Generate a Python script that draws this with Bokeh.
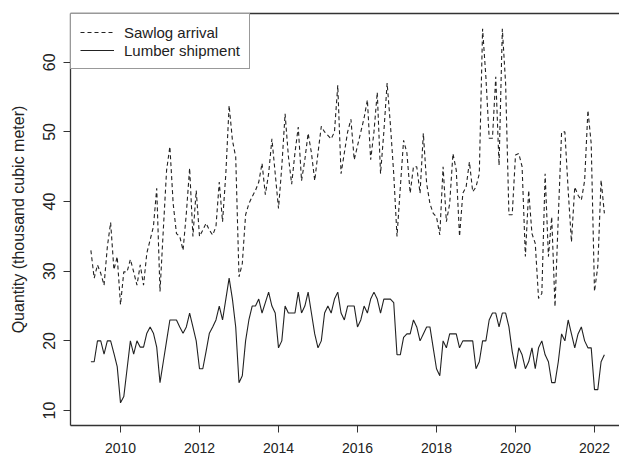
import numpy as np
from bokeh.plotting import figure
from bokeh.models import (Range1d, FixedTicker, LinearAxis, Legend, LegendItem,
                          ColumnDataSource)
from bokeh.embed import file_html
from bokeh.resources import INLINE

# Monthly series, April 2009 to April 2022 (thousand cubic meter)
start_year = 2009.25

sawlog_arrival = [
    33.0, 29.0, 30.9, 29.7, 28.0, 33.5, 37.0, 30.2, 32.1, 25.2,
    29.9, 29.9, 31.7, 29.9, 28.0, 30.9, 28.0, 32.6, 34.5, 36.4,
    41.9, 27.1, 35.9, 44.5, 47.9, 39.7, 35.4, 35.0, 33.0, 38.3,
    44.8, 35.0, 41.6, 35.0, 35.9, 36.9, 35.9, 35.2, 36.4, 42.8,
    37.1, 44.0, 53.8, 48.8, 46.4, 29.2, 31.1, 38.1, 39.7, 40.7,
    41.6, 42.8, 45.5, 41.0, 44.0, 49.0, 44.0, 39.0, 45.0, 52.6,
    46.5, 42.5, 47.0, 50.7, 43.0, 46.0, 49.8, 47.0, 43.0, 47.0,
    50.8, 50.0, 49.5, 49.0, 50.0, 56.7, 44.0, 47.0, 50.0, 51.8,
    46.0, 48.0, 50.0, 52.0, 54.6, 46.0, 50.0, 55.7, 44.0, 50.0,
    57.0, 51.0, 44.0, 35.0, 42.0, 48.8, 47.0, 41.2, 45.0, 45.0,
    41.2, 49.8, 42.6, 39.7, 38.3, 37.8, 35.2, 45.0, 37.1, 39.7,
    46.9, 44.5, 35.0, 41.2, 42.1, 45.7, 41.4, 42.1, 44.0, 64.8,
    57.9, 49.1, 49.1, 57.9, 45.2, 64.8, 56.9, 38.1, 38.1, 46.7,
    46.9, 45.0, 32.1, 41.6, 35.4, 34.0, 26.1, 26.8, 44.0, 32.1,
    37.8, 24.9, 37.8, 50.0, 50.0, 41.6, 34.2, 42.1, 40.9, 40.2,
    43.0, 53.1, 48.3, 27.1, 30.7, 43.1, 38.3,
]

lumber_shipment = [
    17.0, 17.0, 20.0, 20.0, 18.1, 20.0, 20.0, 18.2, 16.3, 11.1,
    12.0, 16.0, 20.0, 18.1, 20.0, 19.1, 19.1, 21.1, 22.0, 21.1,
    19.1, 14.0, 17.0, 20.0, 23.0, 23.0, 23.0, 22.0, 21.1, 22.0,
    24.0, 22.0, 20.0, 16.0, 16.0, 18.5, 21.1, 22.0, 23.0, 25.0,
    23.0, 26.0, 29.0, 26.0, 22.0, 14.0, 15.0, 20.0, 23.0, 25.0,
    25.0, 26.0, 24.0, 25.5, 27.0, 25.0, 24.0, 19.0, 20.0, 25.0,
    24.0, 24.0, 24.0, 27.0, 24.0, 25.0, 27.0, 24.0, 21.0, 19.0,
    20.0, 24.0, 25.0, 24.0, 26.0, 27.0, 24.0, 23.0, 25.0, 25.0,
    25.0, 22.0, 23.0, 25.0, 24.0, 26.0, 27.0, 26.0, 24.0, 26.0,
    26.0, 26.0, 25.5, 18.0, 18.0, 20.5, 21.0, 21.0, 23.0, 22.0,
    20.0, 21.0, 22.0, 22.0, 19.0, 16.0, 15.0, 20.0, 19.0, 21.0,
    21.0, 21.0, 19.0, 20.0, 20.0, 20.0, 20.0, 16.0, 17.0, 20.0,
    20.0, 23.0, 24.0, 24.0, 22.0, 24.0, 24.0, 22.0, 18.5, 16.0,
    19.0, 18.0, 16.0, 17.0, 19.0, 16.0, 19.0, 20.0, 18.0, 17.0,
    14.0, 14.0, 17.0, 21.0, 20.0, 23.0, 21.0, 19.0, 21.0, 22.0,
    20.0, 19.0, 19.0, 13.0, 13.0, 17.0, 18.0,
]

year_ticks = [2010, 2012, 2014, 2016, 2018, 2020, 2022]
quantity_ticks = [10, 20, 30, 40, 50, 60]

time = start_year + np.arange(len(sawlog_arrival)) / 12.0
source = ColumnDataSource(dict(t=time, sawlog=sawlog_arrival, lumber=lumber_shipment))

FONT = "Liberation Sans"
INK = "#222222"
FRAME = "#333333"

p = figure(
    width=619, height=458,
    output_backend="svg", toolbar_location=None,
    x_range=Range1d(2008.734, 2008.734 + 549 / 39.5),
    y_range=Range1d(7.85, 67.0),
    min_border_left=70, min_border_right=0,
    min_border_top=13, min_border_bottom=33,
)
p.outline_line_color = None
p.grid.visible = False
p.background_fill_color = "white"
p.border_fill_color = "white"

r_saw = p.line("t", "sawlog", source=source, line_color=INK,
               line_width=1.1, line_dash="4 3")
r_lum = p.line("t", "lumber", source=source, line_color=INK, line_width=1.1)

# bottom axis (years)
xa = p.xaxis[0]
xa.ticker = FixedTicker(ticks=year_ticks)
xa.axis_line_color = FRAME
xa.axis_line_width = 1.3
xa.major_tick_line_color = FRAME
xa.major_tick_out = 7
xa.major_tick_in = 0
xa.minor_tick_line_color = None
xa.major_label_standoff = 10
xa.major_label_text_font = FONT
xa.major_label_text_font_size = "14px"
xa.major_label_text_color = INK

# left axis (quantity)
ya = p.yaxis[0]
ya.ticker = FixedTicker(ticks=quantity_ticks)
ya.axis_line_color = FRAME
ya.axis_line_width = 1.3
ya.major_tick_line_color = FRAME
ya.major_tick_out = 7
ya.major_tick_in = 0
ya.minor_tick_line_color = None
ya.major_label_orientation = "vertical"
ya.major_label_standoff = 8
ya.major_label_text_font = FONT
ya.major_label_text_font_size = "16px"
ya.major_label_text_color = INK
ya.axis_label = "Quantity (thousand cubic meter)"
ya.axis_label_text_font = FONT
ya.axis_label_text_font_size = "16px"
ya.axis_label_text_font_style = "normal"
ya.axis_label_text_color = INK
ya.axis_label_standoff = 14

# top edge of the plot box
top = LinearAxis(ticker=FixedTicker(ticks=[]), axis_line_color=FRAME,
                 axis_line_width=1.3, major_tick_out=0, major_tick_in=0,
                 minor_tick_out=0, minor_tick_in=0,
                 major_label_text_font_size="0px")
p.add_layout(top, "above")

legend = Legend(
    items=[LegendItem(label="Sawlog arrival", renderers=[r_saw]),
           LegendItem(label="Lumber shipment", renderers=[r_lum])],
    location="top_left", margin=0, padding=9, spacing=0,
    glyph_width=34, glyph_height=18, label_height=18, label_standoff=10,
    label_text_font=FONT, label_text_font_size="15px", label_text_color=INK,
    border_line_color=FRAME, border_line_width=1.2,
    background_fill_color="white", background_fill_alpha=1.0,
)
p.add_layout(legend, "center")

open("out.html", "w").write(file_html(p, INLINE))
